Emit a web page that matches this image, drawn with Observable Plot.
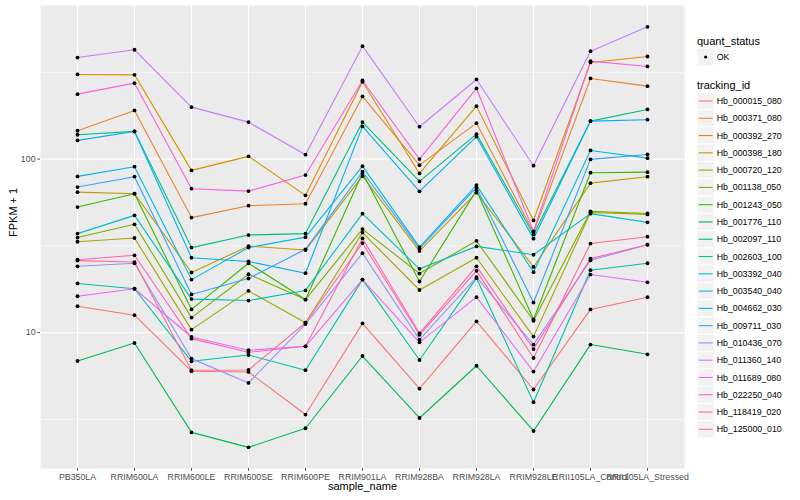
<!DOCTYPE html>
<html>
<head>
<meta charset="utf-8">
<script src="https://cdn.jsdelivr.net/npm/d3@7"></script>
<script src="https://cdn.jsdelivr.net/npm/@observablehq/plot@0.6"></script>
<style>
  body { margin: 0; background: #ffffff; }
  #wrap { position: relative; width: 800px; height: 500px; font-family: "Liberation Sans", Arial, sans-serif; }
  #legend { position: absolute; left: 0; top: 0; pointer-events: none; }
</style>
</head>
<body>
<div id="wrap"></div>
<script>
// ---- data (FPKM + 1) ----
const samples = ["PB350LA","RRIM600LA","RRIM600LE","RRIM600SE","RRIM600PE","RRIM901LA","RRIM928BA","RRIM928LA","RRIM928LE","RRII105LA_Control","RRII105LA_Stressed"];
const trackingIds = ["Hb_000015_080","Hb_000371_080","Hb_000392_270","Hb_000398_180","Hb_000720_120","Hb_001138_050","Hb_001243_050","Hb_001776_110","Hb_002097_110","Hb_002603_100","Hb_003392_040","Hb_003540_040","Hb_004662_030","Hb_009711_030","Hb_010436_070","Hb_011360_140","Hb_011689_080","Hb_022250_040","Hb_118419_020","Hb_125000_010"];
const palette = ["#F8766D","#EA8331","#D89000","#C09B00","#A3A500","#7CAE00","#39B600","#00BB4E","#00BF7D","#00C1A3","#00BFC4","#00BAE0","#00B0F6","#35A2FF","#9590FF","#C77CFF","#E76BF3","#FA62DB","#FF62BC","#FF6C91"];
const quantStatus = ["OK"];

const Hb_000015_080 = [14.2, 12.6, 5.99, 5.93, 3.37, 11.3, 4.75, 11.6, 4.70, 13.6, 16.0];
const Hb_000371_080 = [145.7, 190.7, 46.0, 53.9, 55.3, 229.7, 92.3, 161.2, 37.7, 291.7, 263.3];
const Hb_000392_270 = [307.5, 306, 86.1, 103.7, 61.8, 279.2, 82.7, 202, 44.3, 360.6, 390.4];
const Hb_000398_180 = [64.5, 63.2, 22.2, 31.5, 29.9, 79.8, 29.5, 64.1, 23.9, 72.7, 79.2];
const Hb_000720_120 = [33.4, 35.1, 10.4, 17.4, 11.4, 37.7, 17.6, 27.0, 9.48, 49.2, 48.0];
const Hb_001138_050 = [35.3, 42.1, 12.2, 21.7, 15.5, 39.5, 21.9, 33.8, 11.7, 50.0, 48.6];
const Hb_001243_050 = [52.9, 63.2, 13.6, 25.1, 15.5, 83.1, 19.7, 66.0, 11.9, 83.5, 84.1];
const Hb_001776_110 = [6.86, 8.71, 2.66, 2.18, 2.81, 7.33, 3.22, 6.44, 2.71, 8.53, 7.50];
const Hb_002097_110 = [138.2, 144.4, 30.9, 36.5, 37.2, 163.4, 74.4, 139.3, 36.8, 165.6, 193.3];
const Hb_002603_100 = [19.2, 17.9, 6.83, 7.43, 6.07, 20.2, 6.95, 20.6, 3.97, 22.9, 25.1];
const Hb_003392_040 = [37.2, 47.4, 15.6, 15.3, 17.5, 48.5, 23.3, 31.4, 28.1, 48.5, 43.2];
const Hb_003540_040 = [79.5, 90.4, 20.2, 30.9, 35.5, 91.1, 31.1, 70.8, 22.3, 112.2, 101.3];
const Hb_004662_030 = [128.2, 144.4, 27.0, 25.7, 22.0, 154.3, 65.2, 134.6, 34.8, 165.6, 168.7];
const Hb_009711_030 = [69.0, 79.2, 16.6, 20.5, 30.2, 84.6, 30.5, 68.7, 14.9, 99.6, 106.4];
const Hb_010436_070 = [24.1, 25.1, 7.08, 5.13, 11.2, 28.7, 9.11, 20.9, 8.53, 26.1, 32.1];
const Hb_011360_140 = [385, 426.8, 199.3, 163.4, 106.0, 447.6, 153.7, 287.8, 91.6, 419, 579];
const Hb_011689_080 = [16.2, 17.9, 9.43, 7.91, 8.34, 20.2, 8.79, 16.0, 5.96, 21.6, 19.5];
const Hb_022250_040 = [236.8, 274, 67.5, 65.4, 80.9, 283.9, 100, 255.5, 38.3, 366.9, 342];
const Hb_118419_020 = [26.3, 27.9, 9.23, 7.70, 8.34, 34.9, 9.91, 24.1, 8.04, 26.7, 32.1];
const Hb_125000_010 = [26.0, 25.5, 6.07, 6.09, 11.4, 32.8, 9.71, 22.7, 7.14, 32.6, 35.7];

const seriesValues = [Hb_000015_080, Hb_000371_080, Hb_000392_270, Hb_000398_180, Hb_000720_120, Hb_001138_050, Hb_001243_050, Hb_001776_110, Hb_002097_110, Hb_002603_100, Hb_003392_040, Hb_003540_040, Hb_004662_030, Hb_009711_030, Hb_010436_070, Hb_011360_140, Hb_011689_080, Hb_022250_040, Hb_118419_020, Hb_125000_010];

const yTicks = [10, 100];
const yMinorBreaks = [3.1623, 31.623, 316.23];
const yDomain = [1.647, 768];

// ---- long table ----
const rows = [];
trackingIds.forEach((id, i) => {
  seriesValues[i].forEach((v, j) => rows.push({id, sample: samples[j], value: v, status: "OK"}));
});

const FONT = '"Liberation Sans", Arial, sans-serif';

const chart = Plot.plot({
  width: 800,
  height: 500,
  marginLeft: 40,
  marginRight: 116,
  marginTop: 5,
  marginBottom: 32,
  style: {fontFamily: FONT, background: "white", overflow: "visible"},
  x: {type: "point", domain: samples, padding: 0.6, label: null},
  y: {type: "log", domain: yDomain, label: null},
  color: {domain: trackingIds, range: palette},
  marks: [
    Plot.frame({fill: "#EBEBEB", stroke: "none"}),
    Plot.ruleY(yMinorBreaks, {stroke: "white", strokeWidth: 0.55}),
    Plot.ruleY(yTicks, {stroke: "white", strokeWidth: 1.1}),
    Plot.ruleX(samples, {stroke: "white", strokeWidth: 1.1}),
    Plot.line(rows, {x: "sample", y: "value", z: "id", stroke: "id", strokeWidth: 1.1}),
    Plot.dot(rows, {x: "sample", y: "value", r: 1.9, fill: "black", stroke: "none"}),
    Plot.axisY({ticks: yTicks, tickFormat: d => String(d), tickSize: 2.75, tickPadding: 2.2, fontSize: 8.8, color: "#4D4D4D", label: null}),
    Plot.axisX({tickSize: 2.75, tickPadding: 2.2, fontSize: 8.8, color: "#4D4D4D", label: null}),
    Plot.text(["sample_name"], {frameAnchor: "bottom", dy: 21, fontSize: 11, fill: "black", text: d => d}),
    Plot.text(["FPKM + 1"], {frameAnchor: "left", dx: -27, rotate: -90, fontSize: 11, fill: "black", text: d => d})
  ]
});
const wrap = document.getElementById("wrap");
wrap.appendChild(chart);

// ---- legend (right side) ----
const svg = d3.select(wrap).append("svg")
  .attr("id", "legend").attr("width", 800).attr("height", 500)
  .style("font-family", FONT);

const lx = 697, key = 17.28, labX = 716.7;
svg.append("text").attr("x", lx).attr("y", 44.5).attr("font-size", 11).attr("fill", "black").text("quant_status");
const qs = svg.selectAll("g.qs").data(quantStatus).join("g").attr("class", "qs");
qs.append("rect").attr("x", lx).attr("y", (d, i) => 48.4 + i * key).attr("width", key).attr("height", key)
  .attr("fill", "#F2F2F2").attr("stroke", "white").attr("stroke-width", 1);
qs.append("circle").attr("cx", lx + key / 2).attr("cy", (d, i) => 57 + i * key).attr("r", 1.6).attr("fill", "black");
qs.append("text").attr("x", labX).attr("y", (d, i) => 57 + i * key).attr("dy", "0.35em")
  .attr("font-size", 8.8).attr("fill", "black").text(d => d);

svg.append("text").attr("x", lx).attr("y", 89).attr("font-size", 11).attr("fill", "black").text("tracking_id");
const items = svg.selectAll("g.tid").data(trackingIds).join("g").attr("class", "tid")
  .attr("transform", (d, i) => `translate(0, ${101 + i * key})`);
items.append("rect").attr("x", lx).attr("y", -key / 2).attr("width", key).attr("height", key)
  .attr("fill", "#F2F2F2").attr("stroke", "white").attr("stroke-width", 1);
items.append("line").attr("x1", lx + 1.7).attr("x2", lx + key - 1.7).attr("y1", 0).attr("y2", 0)
  .attr("stroke", (d, i) => palette[i]).attr("stroke-width", 1.1);
items.append("text").attr("x", labX).attr("y", 0).attr("dy", "0.35em")
  .attr("font-size", 8.8).attr("fill", "black").text(d => d);
</script>
</body>
</html>
